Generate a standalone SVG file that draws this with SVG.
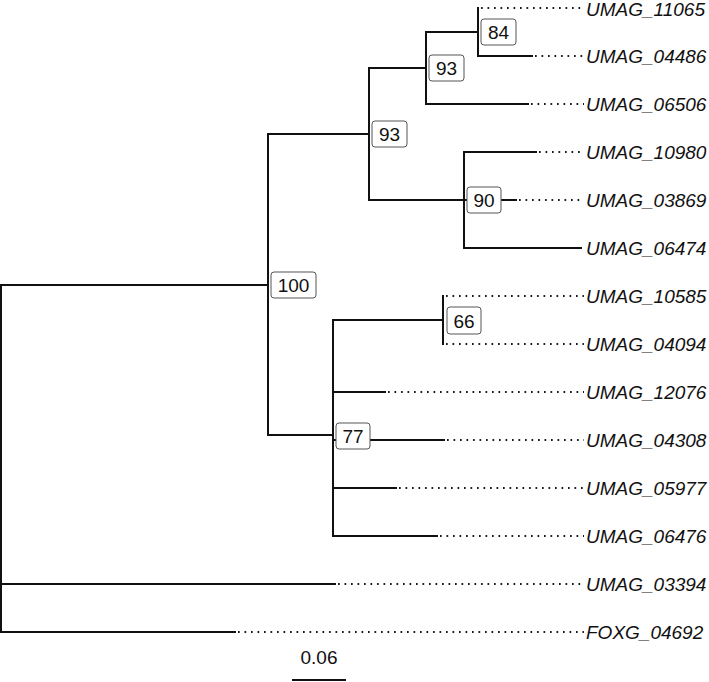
<svg xmlns="http://www.w3.org/2000/svg" width="709" height="682" viewBox="0 0 709 682">
<style>
.br{fill:none;stroke:#111;stroke-width:2;stroke-linecap:square}
.dt{fill:none;stroke:#1a1a1a;stroke-width:1.8;stroke-dasharray:1.7 4.8;stroke-linecap:butt}
.lab{font-family:"Liberation Sans",Arial,sans-serif;font-style:italic;font-size:19px;fill:#111}
.bx{fill:#fff;stroke:#555;stroke-width:1}
.bt{font-family:"Liberation Sans",Arial,sans-serif;font-size:19px;fill:#111;text-anchor:middle}
.sc{font-family:"Liberation Sans",Arial,sans-serif;font-size:19px;fill:#111;text-anchor:middle}
</style>
<rect width="709" height="682" fill="#fff"/>
<g id="connectors">
<path class="br" d="M1,285 V632 M1,285 H268 M1,584 H335 M1,632 H235"/>
<path class="br" d="M268,134 V435 M268,134 H369 M268,435 H333"/>
<path class="br" d="M369,68 V200 M369,68 H426 M369,200 H464"/>
<path class="br" d="M426,32 V104 M426,32 H478 M426,104 H528"/>
<path class="br" d="M478,8 V56 M478,56 H532"/>
<path class="br" d="M464,152 V248 M464,152 H536 M464,200 H516 M464,248 H581"/>
<path class="br" d="M333,320 V536 M333,320 H443 M333,392 H385 M333,440 H444 M333,488 H396 M333,536 H437"/>
<path class="br" d="M443,296 V344"/>
<path class="dt" d="M481,8 H584 M535,56 H584 M531,104 H584 M539,152 H584 M519,200 H584 M446,296 H584 M446,344 H584 M388,392 H584 M447,440 H584 M399,488 H584 M440,536 H584 M338,584 H584 M238,632 H584"/>
</g>
<g id="leaf_UMAG_11065"><text class="lab" x="586" y="16">UMAG_11065</text></g>
<g id="leaf_UMAG_04486"><text class="lab" x="586" y="63">UMAG_04486</text></g>
<g id="leaf_UMAG_06506"><text class="lab" x="586" y="111">UMAG_06506</text></g>
<g id="leaf_UMAG_10980"><text class="lab" x="586" y="159">UMAG_10980</text></g>
<g id="leaf_UMAG_03869"><text class="lab" x="586" y="207">UMAG_03869</text></g>
<g id="leaf_UMAG_06474"><text class="lab" x="586" y="255">UMAG_06474</text></g>
<g id="leaf_UMAG_10585"><text class="lab" x="586" y="303">UMAG_10585</text></g>
<g id="leaf_UMAG_04094"><text class="lab" x="586" y="351">UMAG_04094</text></g>
<g id="leaf_UMAG_12076"><text class="lab" x="586" y="399">UMAG_12076</text></g>
<g id="leaf_UMAG_04308"><text class="lab" x="586" y="447">UMAG_04308</text></g>
<g id="leaf_UMAG_05977"><text class="lab" x="586" y="495">UMAG_05977</text></g>
<g id="leaf_UMAG_06476"><text class="lab" x="586" y="543">UMAG_06476</text></g>
<g id="leaf_UMAG_03394"><text class="lab" x="586" y="591">UMAG_03394</text></g>
<g id="leaf_FOXG_04692"><text class="lab" x="586" y="639">FOXG_04692</text></g>
<g id="node84"><rect class="bx" x="481" y="19" width="35" height="26" rx="3"/><text class="bt" x="498.5" y="39">84</text></g>
<g id="node93a"><rect class="bx" x="429" y="55" width="35" height="26" rx="3"/><text class="bt" x="446.5" y="75">93</text></g>
<g id="node93b"><rect class="bx" x="372" y="121" width="35" height="26" rx="3"/><text class="bt" x="389.5" y="141">93</text></g>
<g id="node90"><rect class="bx" x="467" y="187" width="34" height="26" rx="3"/><text class="bt" x="484" y="207">90</text></g>
<g id="node100"><rect class="bx" x="271" y="272" width="45" height="26" rx="3"/><text class="bt" x="293.5" y="292">100</text></g>
<g id="node66"><rect class="bx" x="447" y="307" width="34" height="27" rx="3"/><text class="bt" x="464" y="327.5">66</text></g>
<g id="node77"><rect class="bx" x="336" y="423" width="34" height="26" rx="3"/><text class="bt" x="353" y="443">77</text></g>
<g id="scalebar"><text class="sc" x="319" y="664">0.06</text><path class="br" d="M293,680 H345" stroke-linecap="butt"/></g>
</svg>
